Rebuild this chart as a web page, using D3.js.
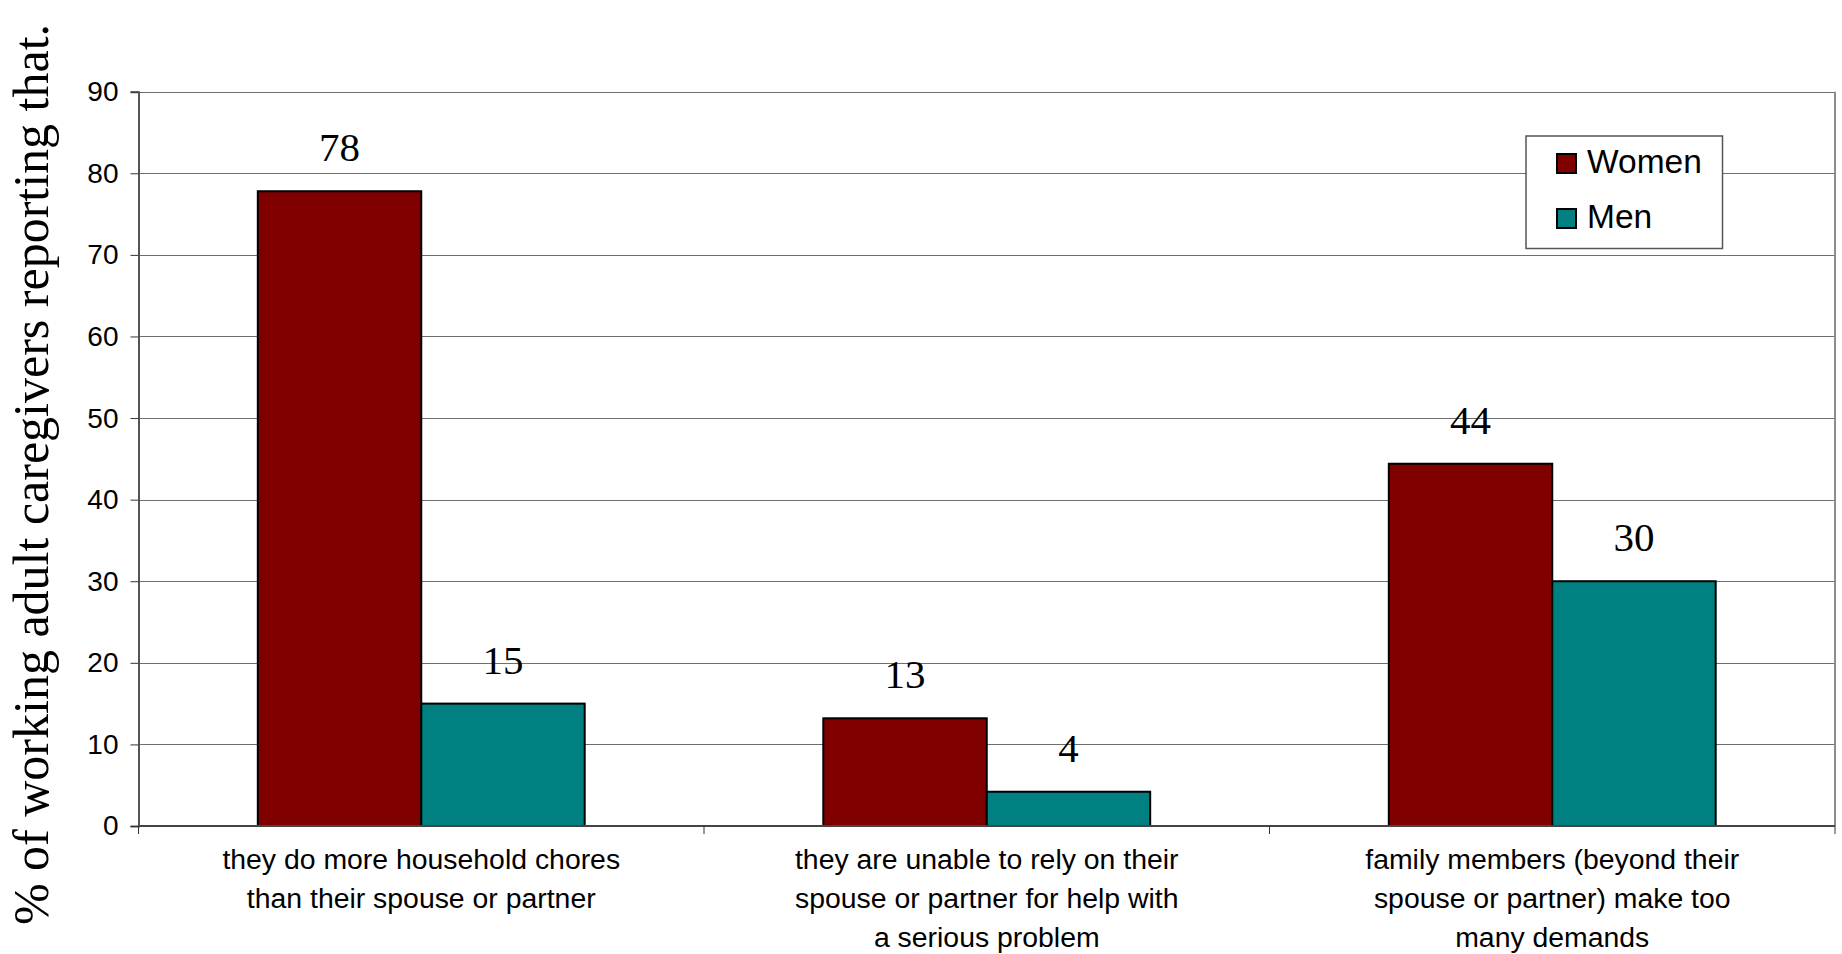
<!DOCTYPE html>
<html>
<head>
<meta charset="utf-8">
<script src="https://cdn.jsdelivr.net/npm/d3@7"></script>
<style>
  html, body { margin: 0; padding: 0; background: #fff; }
  svg { display: block; }
</style>
</head>
<body>
<svg id="chart" width="1842" height="954"></svg>
<script>
const categories = [
  ["they do more household chores", "than their spouse or partner"],
  ["they are unable to rely on their", "spouse or partner for help with", "a serious problem"],
  ["family members (beyond their", "spouse or partner) make too", "many demands"]
];
const seriesNames = ["Women", "Men"];
const women = [77.8, 13.2, 44.4];
const men = [15.0, 4.2, 30.0];
const yTickValues = [0, 10, 20, 30, 40, 50, 60, 70, 80, 90];
const yTitle = "% of working adult caregivers reporting that.";
const colors = { Women: "#800000", Men: "#008080" };

(function () {
const sans = "'Liberation Sans', Arial, sans-serif";
const serif = "'Liberation Serif', 'Times New Roman', serif";

const svg = d3.select("#chart");
const pLeft = 138.5, pRight = 1835, pTop = 91.7, pBottom = 826;

const x0 = d3.scaleBand().domain(d3.range(categories.length)).range([pLeft, pRight]).paddingInner(0).paddingOuter(0);
const x1 = d3.scaleBand().domain(seriesNames).range([0, x0.bandwidth()]).paddingInner(0).paddingOuter(0.73);
const y = d3.scaleLinear().domain([0, 90]).range([pBottom, pTop]);

const data = categories.map((c, i) => ({ i, values: [{ key: "Women", v: women[i] }, { key: "Men", v: men[i] }] }));

// gridlines
svg.append("g").selectAll("line").data(yTickValues.filter(d => d > 0)).join("line")
  .attr("x1", pLeft).attr("x2", pRight)
  .attr("y1", d => Math.round(y(d)) + 0.5).attr("y2", d => Math.round(y(d)) + 0.5)
  .attr("stroke", "#6e6e6e").attr("stroke-width", 1.2);

// right border
svg.append("line").attr("x1", pRight).attr("x2", pRight).attr("y1", pTop).attr("y2", pBottom)
  .attr("stroke", "#8c8c8c").attr("stroke-width", 2);

// y axis
const yAxis = svg.append("g").attr("transform", `translate(${pLeft},0)`)
  .call(d3.axisLeft(y).tickValues(yTickValues).tickSize(8).tickPadding(12).tickFormat(d3.format("d")));
yAxis.select(".domain").attr("stroke", "#555").attr("stroke-width", 2);
yAxis.selectAll(".tick line").attr("stroke", "#333").attr("stroke-width", 1);
yAxis.selectAll(".tick text").attr("font-family", sans).attr("font-size", 28).attr("fill", "#000");

// bars
const groups = svg.append("g").selectAll("g").data(data).join("g")
  .attr("transform", d => `translate(${x0(d.i)},0)`);
groups.selectAll("rect").data(d => d.values).join("rect")
  .attr("x", d => x1(d.key)).attr("width", x1.bandwidth())
  .attr("y", d => y(d.v)).attr("height", d => y(0) - y(d.v))
  .attr("fill", d => colors[d.key]).attr("stroke", "#000").attr("stroke-width", 2);
groups.selectAll("text.val").data(d => d.values).join("text").attr("class", "val")
  .attr("x", d => x1(d.key) + x1.bandwidth() / 2).attr("y", d => y(d.v) - 30)
  .attr("text-anchor", "middle").attr("font-family", serif).attr("font-size", 41).attr("fill", "#000")
  .text(d => d3.format(".0f")(d.v));

// x axis
const xAxisG = svg.append("g");
xAxisG.append("line").attr("x1", pLeft).attr("x2", pRight).attr("y1", pBottom).attr("y2", pBottom)
  .attr("stroke", "#444").attr("stroke-width", 2);
const boundaries = d3.range(categories.length).map(i => x0(i)).concat([pRight]);
xAxisG.selectAll("line.tk").data(boundaries).join("line").attr("class", "tk")
  .attr("x1", d => d).attr("x2", d => d).attr("y1", pBottom).attr("y2", pBottom + 8)
  .attr("stroke", "#333").attr("stroke-width", 1);

// category labels
const catG = svg.append("g").selectAll("text").data(categories).join("text")
  .attr("font-family", sans).attr("font-size", 28.4).attr("fill", "#000")
  .attr("text-anchor", "middle");
catG.selectAll("tspan").data((d, i) => d.map(s => ({ s, i }))).join("tspan")
  .attr("x", d => x0(d.i) + x0.bandwidth() / 2)
  .attr("y", (d, j) => 869 + j * 39)
  .text(d => d.s);

// y title
svg.append("text")
  .attr("transform", "translate(48,474.5) rotate(-90)")
  .attr("text-anchor", "middle").attr("font-family", serif).attr("font-size", 50).attr("fill", "#000")
  .text(yTitle);

// legend
const lg = svg.append("g");
lg.append("rect").attr("x", 1526).attr("y", 136).attr("width", 196.5).attr("height", 112.5)
  .attr("fill", "#fff").attr("stroke", "#555").attr("stroke-width", 1.5);
const items = lg.selectAll("g").data(seriesNames).join("g")
  .attr("transform", (d, i) => `translate(1557,${154 + i * 55})`);
items.append("rect").attr("width", 19).attr("height", 19)
  .attr("fill", d => colors[d]).attr("stroke", "#000").attr("stroke-width", 2);
items.append("text").attr("x", 30).attr("y", 19).attr("font-family", sans).attr("font-size", 33.5)
  .attr("fill", "#000").text(d => d);
})();
</script>
</body>
</html>
